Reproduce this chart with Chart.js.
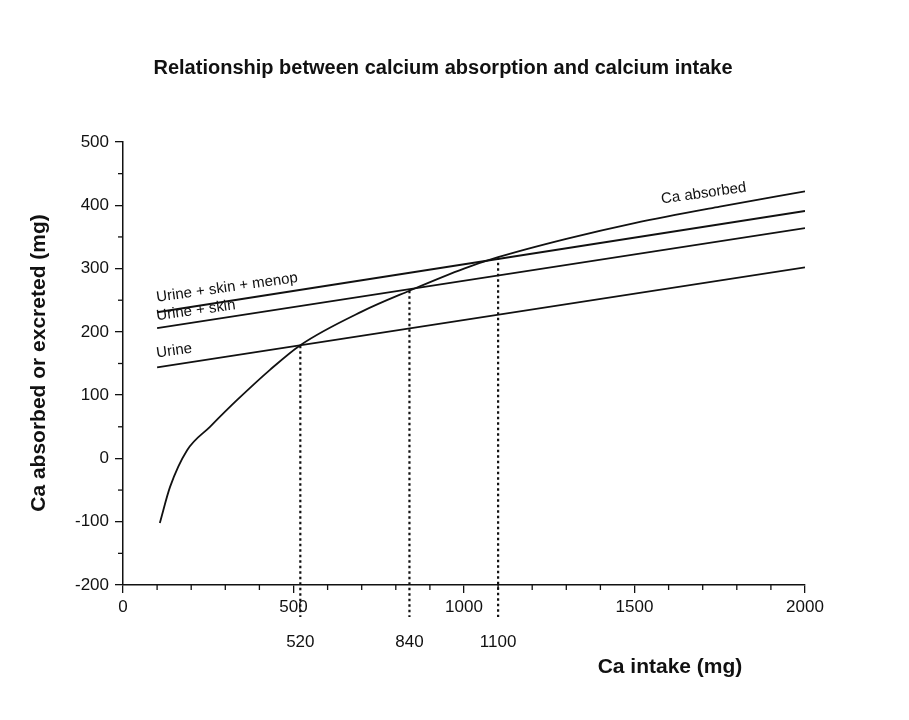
<!DOCTYPE html>
<html>
<head>
<meta charset="utf-8">
<script src="https://cdn.jsdelivr.net/npm/chart.js@4/dist/chart.umd.min.js"></script>
<style>
  body { margin: 0; background: #fff; }
  #wrap { width: 909px; height: 720px; }
</style>
</head>
<body>
<div id="wrap"><canvas id="chart" width="909" height="720"></canvas></div>
<script>
const intake = [108, 138, 188, 255, 334, 431, 520, 700, 840, 1000, 1100, 1300, 1500, 1750, 2000];
const absorbed = [-102, -45, 13, 50, 92, 140, 179, 232, 265, 300, 318, 347, 372, 398, 422];
const lineX = [100, 2000];
const urine = [144, 302];
const urineSkin = [206, 364];
const urineSkinMenop = [231, 391];
const markX = [520, 840, 1100];
const markY = [178, 265, 318];
const xTicks = [0, 500, 1000, 1500, 2000];

const ctx = document.getElementById("chart");

const pairs = (xs, ys) => xs.map((x, i) => ({ x, y: ys[i] }));

const extras = {
  id: "extras",
  afterDraw(chart) {
    const { ctx, scales: { x, y } } = chart;
    ctx.save();
    ctx.strokeStyle = "#111";
    ctx.lineWidth = 1.3;
    // minor ticks
    for (let v = -200; v <= 500; v += 50) {
      if (v % 100 === 0) continue;
      const py = y.getPixelForValue(v);
      ctx.beginPath(); ctx.moveTo(x.left - 5, py); ctx.lineTo(x.left, py); ctx.stroke();
    }
    for (let v = 100; v < 2000; v += 100) {
      if (v % 500 === 0) continue;
      const px = x.getPixelForValue(v);
      ctx.beginPath(); ctx.moveTo(px, y.bottom); ctx.lineTo(px, y.bottom + 5); ctx.stroke();
    }
    // dotted drop lines
    ctx.setLineDash([2.5, 3]);
    ctx.lineWidth = 2.2;
    markX.forEach((v, i) => {
      const px = x.getPixelForValue(v);
      ctx.beginPath();
      ctx.moveTo(px, y.getPixelForValue(markY[i]));
      ctx.lineTo(px, y.bottom + 32);
      ctx.stroke();
    });
    ctx.setLineDash([]);
    ctx.fillStyle = "#111";
    ctx.font = "17px Liberation Sans, Arial";
    ctx.textAlign = "center";
    markX.forEach(v => ctx.fillText(String(v), x.getPixelForValue(v), y.bottom + 62));
    // line labels
    const label = (t, vx, vy, dy) => {
      ctx.save();
      ctx.translate(x.getPixelForValue(vx), y.getPixelForValue(vy) + dy);
      ctx.rotate(-0.14);
      ctx.textAlign = "left";
      ctx.font = "15px Liberation Sans, Arial";
      ctx.fillText(t, 0, 0);
      ctx.restore();
    };
    label("Urine + skin + menop", 100, 238, -6);
    label("Urine + skin", 100, 212, -4);
    label("Urine", 100, 150, -6);
    label("Ca absorbed", 1580, 390, -8);
    // titles
    ctx.textAlign = "center";
    ctx.font = "bold 20px Liberation Sans, Arial";
    ctx.fillText("Relationship between calcium absorption and calcium intake", 443, 74);
    ctx.font = "bold 21px Liberation Sans, Arial";
    ctx.fillText("Ca intake (mg)", 670, 673);
    ctx.save();
    ctx.translate(45, 363);
    ctx.rotate(-Math.PI / 2);
    ctx.fillText("Ca absorbed or excreted (mg)", 0, 0);
    ctx.restore();
    ctx.restore();
  }
};

const lineStyle = { borderColor: "#111", borderWidth: 1.8, pointRadius: 0, fill: false };

new Chart(ctx, {
  type: "line",
  data: {
    datasets: [
      { ...lineStyle, data: pairs(intake, absorbed), cubicInterpolationMode: "monotone" },
      { ...lineStyle, data: pairs(lineX, urine) },
      { ...lineStyle, data: pairs(lineX, urineSkin) },
      { ...lineStyle, data: pairs(lineX, urineSkinMenop) }
    ]
  },
  options: {
    responsive: false,
    animation: false,
    layout: { padding: { left: 0, right: 104, top: 142, bottom: 0 } },
    plugins: { legend: { display: false }, tooltip: { enabled: false } },
    scales: {
      x: {
        type: "linear", min: 0, max: 2000,
        afterFit: s => { s.height = 135; },
        afterBuildTicks: s => { s.ticks = xTicks.map(v => ({ value: v })); },
        grid: { drawOnChartArea: false, tickLength: 8, color: "#111", lineWidth: 1.3 },
        border: { color: "#111", width: 1.5 },
        ticks: { color: "#111", font: { size: 17, family: "Liberation Sans, Arial" }, maxRotation: 0, padding: 4, callback: v => String(v) }
      },
      y: {
        min: -200, max: 500,
        afterFit: s => { s.width = 123; },
        grid: { drawOnChartArea: false, tickLength: 8, color: "#111", lineWidth: 1.3 },
        border: { color: "#111", width: 1.5 },
        ticks: { stepSize: 100, color: "#111", font: { size: 17, family: "Liberation Sans, Arial" }, padding: 6, callback: v => String(v) }
      }
    }
  },
  plugins: [extras]
});
</script>
</body>
</html>
